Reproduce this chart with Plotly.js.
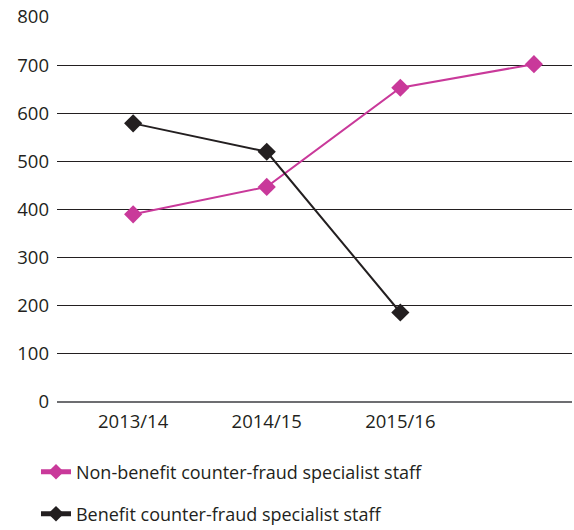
<!DOCTYPE html>
<html>
<head>
<meta charset="utf-8">
<script src="https://cdn.plot.ly/plotly-3.0.1.min.js"></script>
<style>html,body{margin:0;padding:0;background:#fff;}#chart{width:574px;height:530px;}</style>
</head>
<body>
<div id="chart"></div>
<script>
const categories = ['2013/14', '2014/15', '2015/16', '2016/17'];
const tickLabels = ['2013/14', '2014/15', '2015/16', ''];
const nonBenefitName = 'Non-benefit counter-fraud specialist staff';
const nonBenefitValues = [390, 447, 653, 702];
const benefitName = 'Benefit counter-fraud specialist staff';
const benefitValues = [579, 520, 186];
const yTicks = [0, 100, 200, 300, 400, 500, 600, 700, 800];

const FONT = 'Open Sans, Noto Sans, sans-serif';
const TXT = '#231f20';
const FS = 18.5;
const LFS = 18;

const traces = [
  {
    x: categories, y: nonBenefitValues, name: nonBenefitName, type: 'scatter', mode: 'lines+markers',
    line: {color: '#c9399a', width: 2}, marker: {symbol: 'diamond', size: 14, color: '#c9399a'},
    legend: 'legend'
  },
  {
    x: categories.slice(0, benefitValues.length), y: benefitValues, name: benefitName, type: 'scatter', mode: 'lines+markers',
    line: {color: TXT, width: 2}, marker: {symbol: 'diamond', size: 14, color: TXT},
    legend: 'legend2'
  }
];

const layout = {
  width: 574, height: 530,
  margin: {l: 57, r: 2, t: 17, b: 128, autoexpand: false},
  paper_bgcolor: '#fff', plot_bgcolor: '#fff',
  font: {family: FONT, size: FS, color: TXT},
  xaxis: {
    type: 'category', categoryorder: 'array', categoryarray: categories,
    tickvals: categories, ticktext: tickLabels, tickangle: 0,
    range: [-0.57, 3.285], showgrid: false, zeroline: false, showline: false, ticks: '',
    ticklabelstandoff: 6,
    tickfont: {family: FONT, size: FS, color: TXT}
  },
  yaxis: {
    range: [0, 800], tickvals: yTicks, showgrid: true, gridcolor: '#231f20', gridwidth: 1,
    zeroline: true, zerolinecolor: '#6d6e71', zerolinewidth: 2, showline: false, ticks: '',
    ticklabelstandoff: 7,
    tickfont: {family: FONT, size: FS, color: TXT}
  },
  showlegend: true,
  legend: {x: -0.0408, xanchor: 'left', y: -0.1818, yanchor: 'middle', itemsizing: 'constant', bgcolor: 'rgba(0,0,0,0)', font: {family: FONT, size: LFS, color: TXT}},
  legend2: {x: -0.0408, xanchor: 'left', y: -0.2909, yanchor: 'middle', itemsizing: 'constant', bgcolor: 'rgba(0,0,0,0)', font: {family: FONT, size: LFS, color: TXT}}
};

Plotly.newPlot('chart', traces, layout, {displayModeBar: false, staticPlot: true});
</script>
</body>
</html>
